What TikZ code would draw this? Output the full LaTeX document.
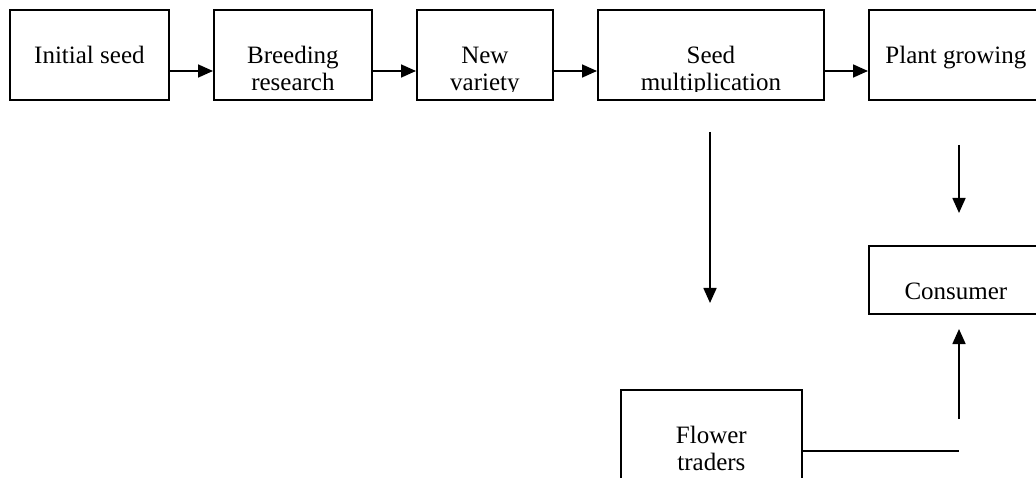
\documentclass[tikz,border=0pt]{standalone}
\usepackage{fontspec}
\setmainfont{Liberation Serif}
\usetikzlibrary{arrows.meta}
\newcommand\stagefont{\fontsize{25}{27}\selectfont}
\begin{document}
\begin{tikzpicture}[x=1pt,y=-1pt,
  stage/.style={draw, line width=1.8pt, inner sep=0pt, anchor=north west,
    minimum width=#1, minimum height=90pt},
  % text set from the top of the box; lines falling below the inner margin are cut off
  caption/.style={path picture={
    \clip ([yshift=-81.5pt]path picture bounding box.north west)
      rectangle (path picture bounding box.north east);
    \node[anchor=base, inner sep=0pt, font=\stagefont]
      at ([yshift=-53.5pt]path picture bounding box.north)
      {\begin{tabular}[t]{@{}c@{}}#1\end{tabular}};
  }},
  flow/.style={line width=1.7pt, -{Triangle[length=15pt,width=13pt]}},
  plain/.style={line width=1.7pt}
]
\useasboundingbox (0,0) rectangle (1036,478);
\clip (0,0) rectangle (1036,478);

% chain of stages along the top row
\node[stage=159pt, caption={Initial seed}] (seed) at (9,9) {};
\node[stage=158pt, caption={Breeding\\research}] (breed) at (213,9) {};
\node[stage=136pt, caption={New\\variety}] (variety) at (416,9) {};
\node[stage=226pt, caption={Seed\\multiplication}] (mult) at (597,9) {};
\node[stage=174pt, caption={Plant growing}] (grow) at (868,9) {};

% lower boxes
\node[stage=174pt, minimum height=68pt, caption={Consumer}] (consumer) at (868,245) {};
\node[stage=181pt, minimum height=100pt, caption={Flower\\traders}] (traders) at (620,389) {};

\coordinate (row) at (0,71);
\draw[flow] (seed.east |- row) -- (breed.west |- row);
\draw[flow] (breed.east |- row) -- (variety.west |- row);
\draw[flow] (variety.east |- row) -- (mult.west |- row);
\draw[flow] (mult.east |- row) -- (grow.west |- row);

% free-standing vertical arrows
\coordinate (multdownA) at (710,132);
\coordinate (multdownB) at (710,303);
\draw[flow] (multdownA) -- (multdownB);

\coordinate (growdownA) at (959,145);
\coordinate (growdownB) at (959,213);
\draw[flow] (growdownA) -- (growdownB);

\coordinate (consupA) at (959,419);
\coordinate (consupB) at (959,329);
\draw[flow] (consupA) -- (consupB);

% line leaving the traders box
\coordinate (tradeline) at (959,451);
\draw[plain] (traders.east |- tradeline) -- (tradeline);
\end{tikzpicture}
\end{document}
